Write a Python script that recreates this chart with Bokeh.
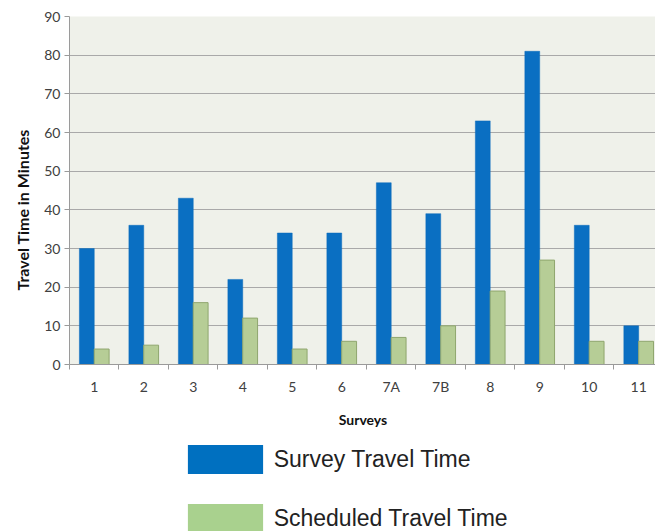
from bokeh.plotting import figure
from bokeh.layouts import column
from bokeh.models import Range1d, FixedTicker, Legend, LegendItem, ColumnDataSource, Title
from bokeh.embed import file_html
from bokeh.resources import INLINE

# ---- data ----
surveys = ["1", "2", "3", "4", "5", "6", "7A", "7B", "8", "9", "10", "11"]
survey_time = [30, 36, 43, 22, 34, 34, 47, 39, 63, 81, 36, 10]
scheduled_time = [4, 5, 16, 12, 4, 6, 7, 10, 19, 27, 6, 6]
y_ticks = [0, 10, 20, 30, 40, 50, 60, 70, 80, 90]
series_names = ["Survey Travel Time", "Scheduled Travel Time"]

centers = [i + 0.5 for i in range(len(surveys))]
bounds = list(range(len(surveys) + 1))

src = ColumnDataSource(dict(
    xs=[c - 0.15 for c in centers],
    xg=[c + 0.15 for c in centers],
    survey=survey_time,
    sched=scheduled_time,
))

p = figure(
    frame_width=587, frame_height=348,
    x_range=Range1d(0, 11.86), y_range=Range1d(0, 90),
    output_backend="svg", toolbar_location=None,
    min_border_left=68, min_border_right=0, min_border_top=16, min_border_bottom=81,
    background_fill_color="#eff1ea", border_fill_color="white",
    outline_line_color=None,
)

p.vbar(x="xs", top="survey", width=0.3, source=src,
       fill_color="#0a6fc2", line_color="#0a6bbb", line_width=0.5)
p.vbar(x="xg", top="sched", width=0.3, source=src,
       fill_color="#b6cd96", line_color="#8fa66e", line_width=1)

# grid
p.xgrid.grid_line_color = None
p.ygrid.grid_line_color = "#a9a9a9"
p.ygrid.grid_line_width = 1.2
p.ygrid.ticker = FixedTicker(ticks=y_ticks)

# y axis
p.yaxis.ticker = FixedTicker(ticks=y_ticks)
p.yaxis.major_label_text_font = "Lato"
p.yaxis.major_label_text_font_size = "14px"
p.yaxis.major_label_text_color = "#404040"
p.yaxis.major_label_standoff = 4
p.yaxis.axis_line_color = "#9a9a9a"
p.yaxis.major_tick_line_color = "#9a9a9a"
p.yaxis.major_tick_out = 5
p.yaxis.major_tick_in = 0
p.yaxis.minor_tick_line_color = None

ytitle = Title(text="Travel Time in Minutes", align="left", offset=74,
               standoff=20,
               text_font="Lato", text_font_style="bold", text_font_size="16px",
               text_color="#111111")
p.add_layout(ytitle, "left")

# x axis
p.xaxis.ticker = FixedTicker(ticks=centers, minor_ticks=bounds)
p.xaxis.major_label_overrides = {c: s for c, s in zip(centers, surveys)}
p.xaxis.axis_label = "Surveys"
p.xaxis.axis_label_text_font = "Lato"
p.xaxis.axis_label_text_font_style = "bold"
p.xaxis.axis_label_text_font_size = "14px"
p.xaxis.axis_label_text_color = "#111111"
p.xaxis.axis_label_standoff = 13
p.xaxis.major_label_text_font = "Lato"
p.xaxis.major_label_text_font_size = "14px"
p.xaxis.major_label_text_color = "#404040"
p.xaxis.major_label_standoff = 8
p.xaxis.axis_line_color = "#9a9a9a"
p.xaxis.major_tick_line_color = None
p.xaxis.major_tick_out = 0
p.xaxis.minor_tick_line_color = "#9a9a9a"
p.xaxis.minor_tick_out = 5
p.xaxis.minor_tick_in = 0

# ---- legend strip below the chart ----
lf = figure(
    frame_width=587, frame_height=86,
    x_range=Range1d(0, 587), y_range=Range1d(0, 86),
    output_backend="svg", toolbar_location=None,
    x_axis_location=None, y_axis_location=None,
    min_border_left=68, min_border_right=0, min_border_top=0, min_border_bottom=0,
    outline_line_color=None,
    background_fill_color="white", border_fill_color="white",
)
lf.grid.visible = False
# swatch renderers with zero-size marks; only their legend glyphs are seen
swatch = ColumnDataSource(dict(x=[-1000], top=[0]))
l1 = lf.vbar(x="x", top="top", width=0.001, source=swatch, fill_color="#0070c0", line_color=None)
l2 = lf.vbar(x="x", top="top", width=0.001, source=swatch, fill_color="#a9d18e", line_color=None)

legend = Legend(
    items=[LegendItem(label=series_names[0], renderers=[l1]),
           LegendItem(label=series_names[1], renderers=[l2])],
    location=(155, -5),
    orientation="vertical",
    glyph_width=94, glyph_height=36, label_height=36,
    spacing=23, label_standoff=2, padding=0, margin=0,
    label_text_font="Liberation Sans", label_text_font_size="23px",
    label_text_color="#222222",
    border_line_color=None, background_fill_alpha=0,
)
lf.add_layout(legend, "center")

layout = column(p, lf, spacing=0)
open("out.html", "w").write(file_html(layout, INLINE))
